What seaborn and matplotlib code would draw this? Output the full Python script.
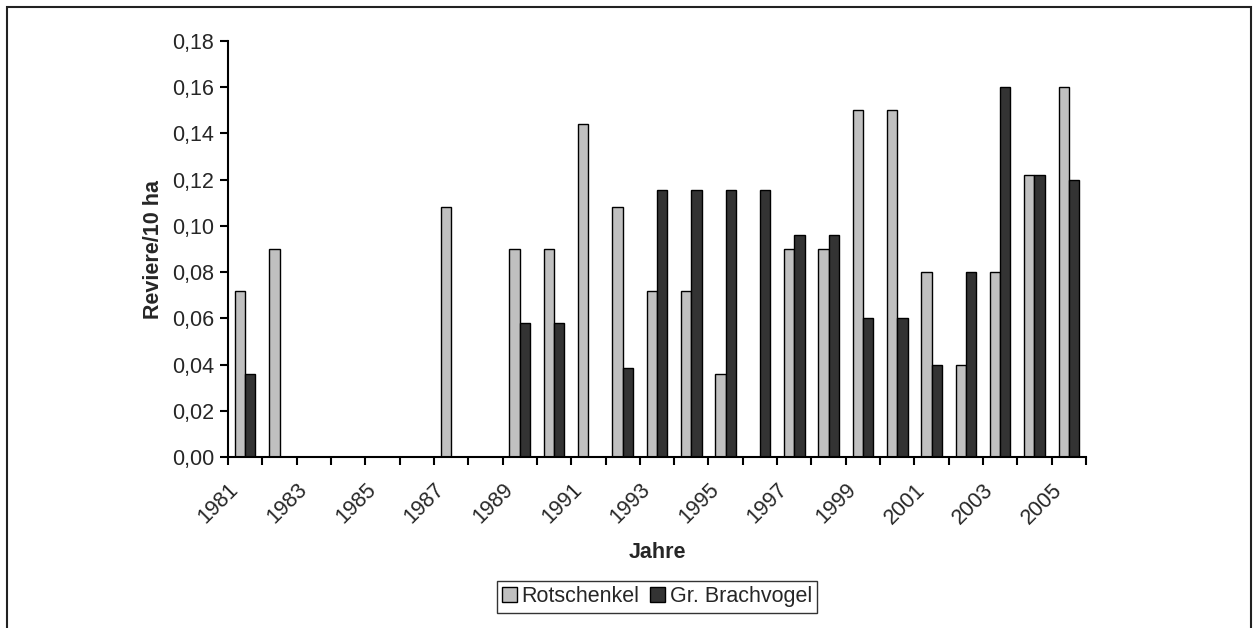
import numpy as np
import pandas as pd
import matplotlib
matplotlib.use("Agg")
import matplotlib.pyplot as plt
import seaborn as sns
from matplotlib.ticker import FuncFormatter, FixedLocator
from matplotlib.patches import Rectangle

# Data
years = list(range(1981, 2006))
rotschenkel = [0.072, 0.090, 0, 0, 0, 0, 0.108, 0, 0.090, 0.090,
               0.144, 0.108, 0.072, 0.072, 0.036, 0, 0.090, 0.090, 0.150, 0.150,
               0.080, 0.040, 0.080, 0.122, 0.160]
brachvogel = [0.036, 0, 0, 0, 0, 0, 0, 0, 0.058, 0.058,
              0, 0.0385, 0.1155, 0.1155, 0.1155, 0.1155, 0.096, 0.096, 0.060, 0.060,
              0.040, 0.080, 0.160, 0.122, 0.120]
series_names = ["Rotschenkel", "Gr. Brachvogel"]
colors = ["#C0C0C0", "#333333"]

df = pd.DataFrame({
    "Jahr": [str(y) for y in years] * 2,
    "Wert": rotschenkel + brachvogel,
    "Art": [series_names[0]] * len(years) + [series_names[1]] * len(years),
})

sns.set_style("white")
plt.rcParams["font.family"] = ["Liberation Sans", "DejaVu Sans"]
fs = 15.5

fig = plt.figure(figsize=(12.53, 6.28), dpi=100)
ax = fig.add_axes([0.182, 0.2723, 0.6847, 0.6624])

sns.barplot(data=df, x="Jahr", y="Wert", hue="Art", palette=colors,
            width=0.6, edgecolor="black", linewidth=1.0, ax=ax,
            legend=True, errorbar=None, saturation=1)

ax.set_xlim(-0.5, len(years) - 0.5)
ax.set_ylim(0, 0.18)
ax.set_yticks(np.arange(0, 0.181, 0.02))
ax.yaxis.set_major_formatter(FuncFormatter(lambda v, p: f"{v:.2f}".replace(".", ",")))

# labels every other year (text end sits at the left boundary of its group),
# tick marks at every category boundary
ax.set_xticks(np.arange(0, len(years), 2) - 0.5)
ax.set_xticklabels([str(y) for y in years[::2]], rotation=45, ha="right",
                   rotation_mode="anchor")
ax.xaxis.set_minor_locator(FixedLocator(np.arange(-0.5, len(years), 1.0)))
ax.tick_params(axis="x", which="major", length=6, width=1.5, color="black",
               direction="out", bottom=True, pad=10, labelsize=fs)
ax.tick_params(axis="x", which="minor", length=6, width=1.5, color="black",
               direction="out", bottom=True)
ax.tick_params(axis="y", length=6, width=1.5, color="black", direction="out",
               left=True, labelsize=fs, pad=4)

for s in ["top", "right"]:
    ax.spines[s].set_visible(False)
for s in ["left", "bottom"]:
    ax.spines[s].set_color("black")
    ax.spines[s].set_linewidth(1.5)

ax.set_xlabel("Jahre", fontsize=fs, fontweight="bold")
ax.set_ylabel("Reviere/10 ha", fontsize=fs, fontweight="bold")
ax.xaxis.set_label_coords(0.5, -0.205)
ax.yaxis.set_label_coords(-0.075, 0.5)

ax.legend(loc="center", bbox_to_anchor=(0.5, -0.3365), ncol=2, frameon=True,
          fancybox=False, edgecolor="black", fontsize=fs, handlelength=0.7,
          handleheight=0.7, handletextpad=0.2, columnspacing=0.5,
          borderpad=0.25, borderaxespad=0)
ax.get_legend().get_frame().set_linewidth(1.0)

# chart border
fig.add_artist(Rectangle((7 / 1253, -0.2), (1251 - 7) / 1253, 1.2 - 7 / 628,
                         transform=fig.transFigure, fill=False,
                         edgecolor="#222222", linewidth=1.5, clip_on=False))

fig.savefig("out.png", dpi=100)
